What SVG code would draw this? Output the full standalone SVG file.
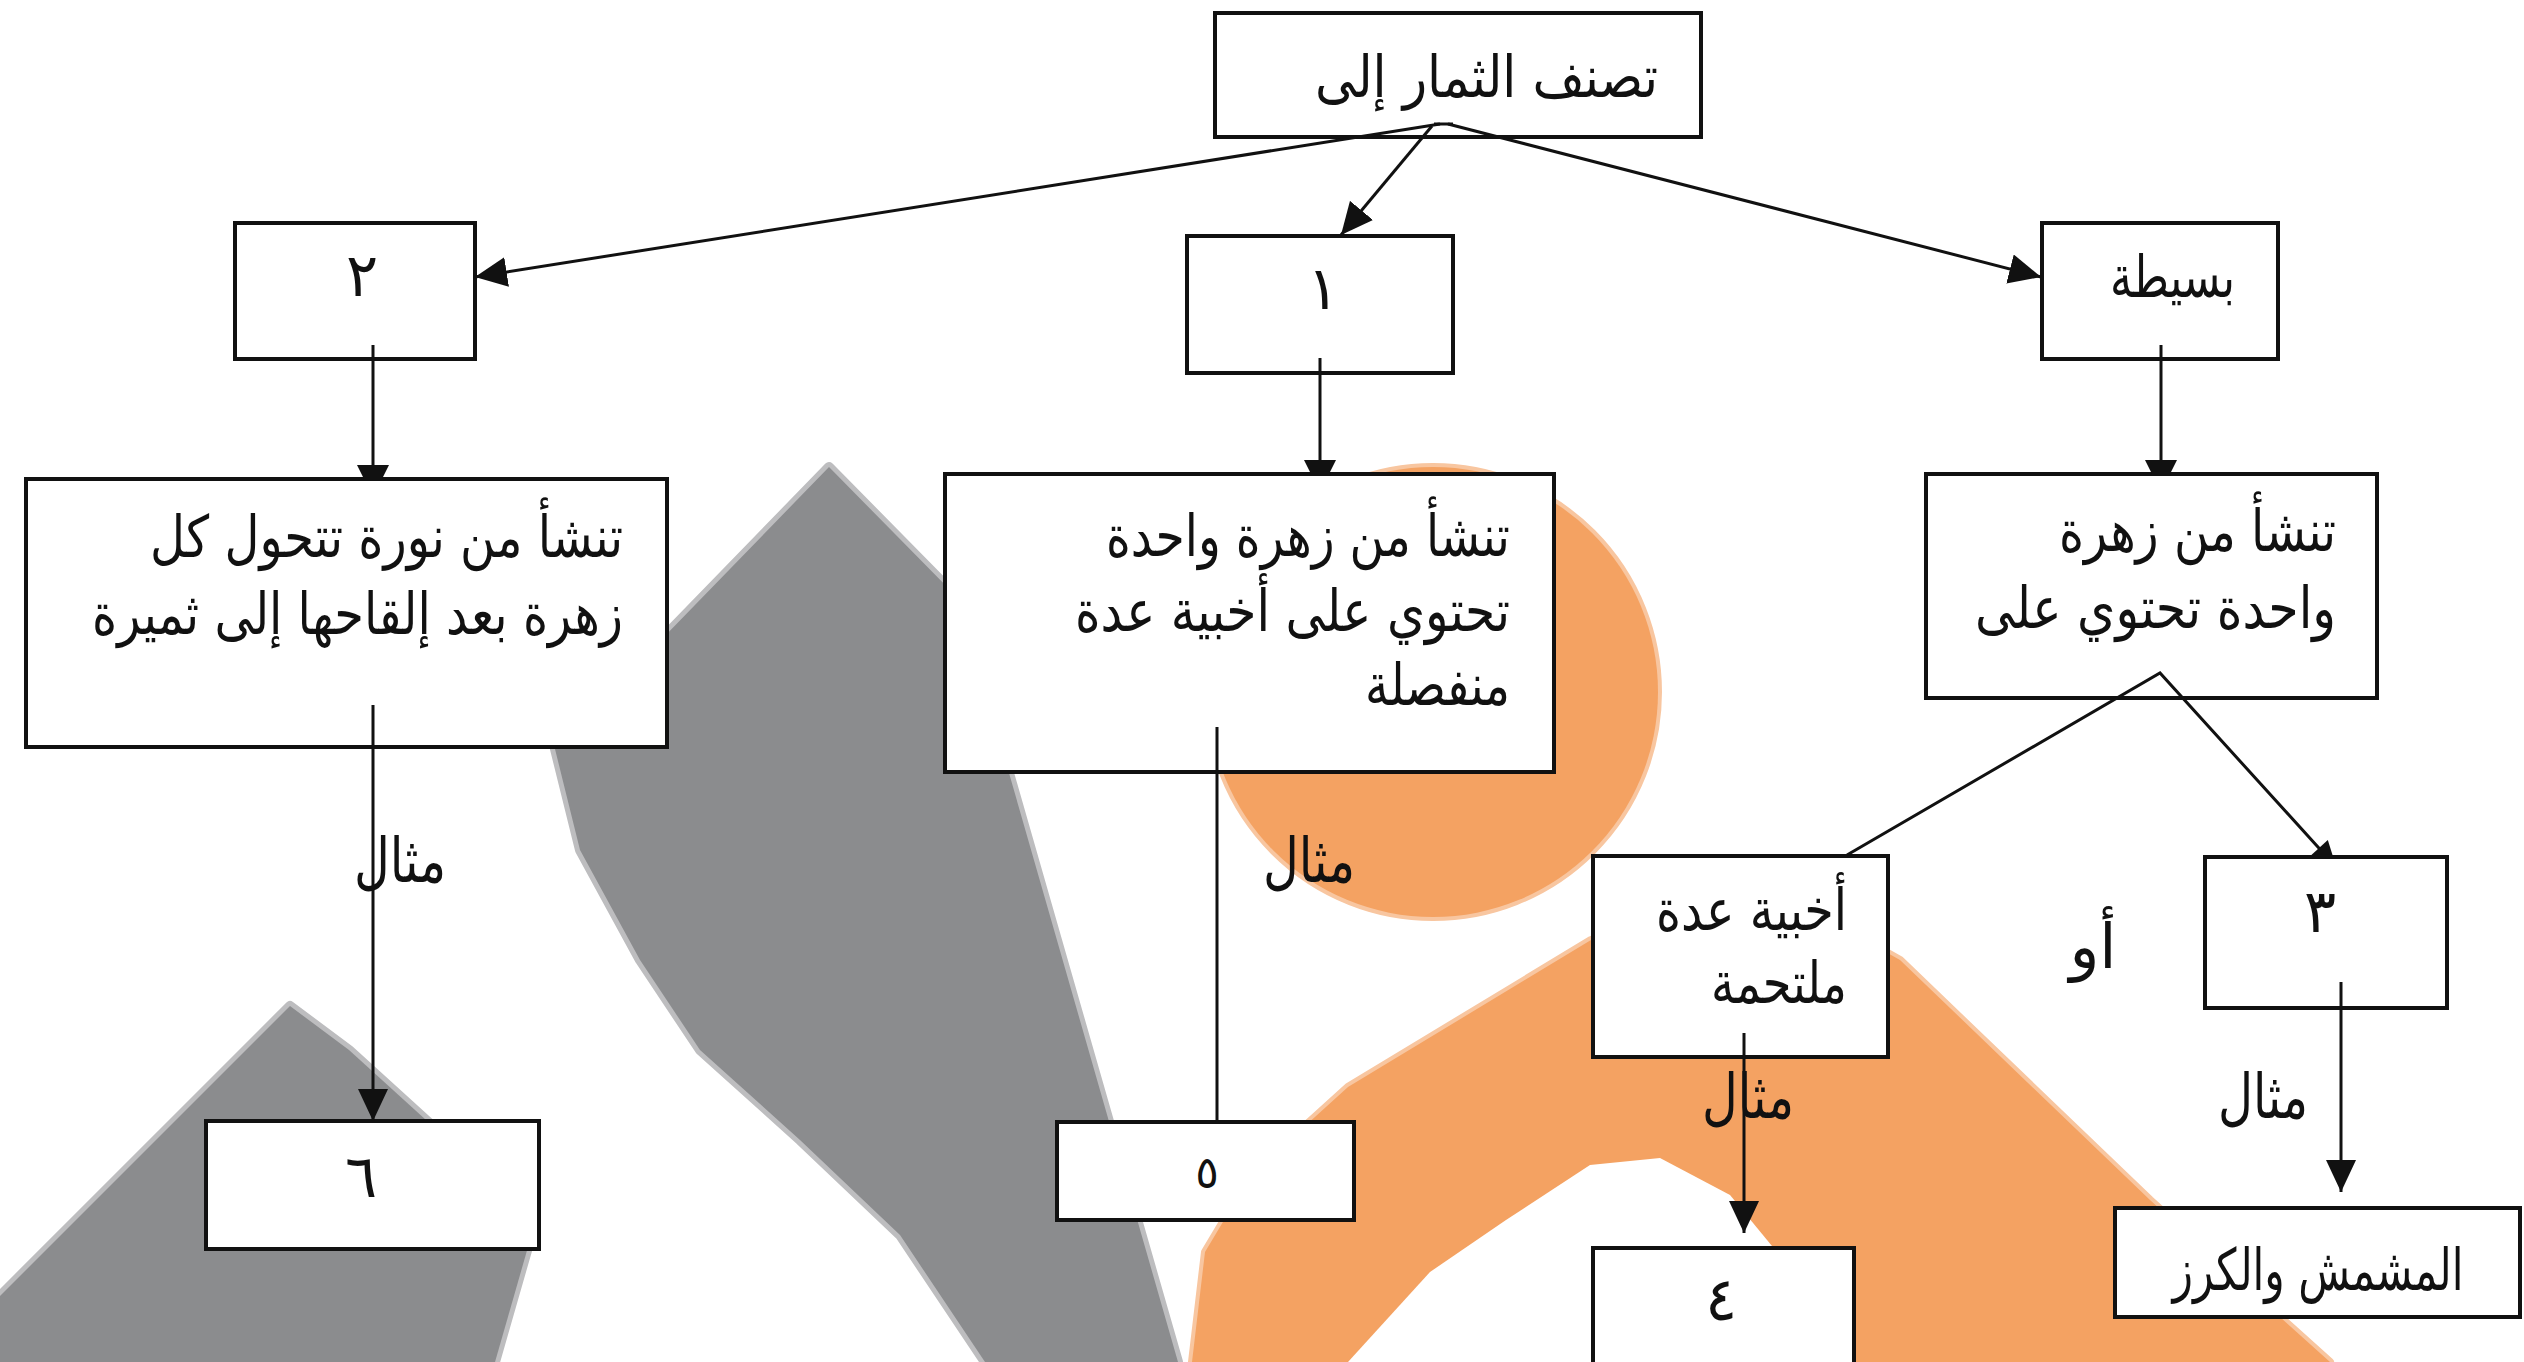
<svg xmlns="http://www.w3.org/2000/svg" width="2524" height="1362" viewBox="0 0 2524 1362">
  <style>
    .box { fill: #ffffff; stroke: #111111; stroke-width: 4; }
    .conn { fill: none; stroke: #111111; stroke-width: 3; }
    .head { fill: #111111; stroke: none; }
    .t { font-family: "DejaVu Sans", "Noto Sans", sans-serif; font-size: 58px; fill: #111111; }
    .d { font-size: 60px; }
    .small { font-size: 44px; }
    .lbl { font-size: 62px; }
    .r { text-anchor: end; }
    .c { text-anchor: middle; }
    .grey { fill: #8b8c8e; stroke: #bdbdbf; stroke-width: 10; paint-order: stroke; stroke-linejoin: round; }
    .orange { fill: #f4a262; stroke: #f8c6a0; stroke-width: 8; paint-order: stroke; stroke-linejoin: round; }
    .hole { fill: #ffffff; stroke: none; }
  </style>
  <defs>
    <marker id="arrow" markerUnits="userSpaceOnUse" viewBox="0 0 32 30" markerWidth="32" markerHeight="30" refX="32" refY="15" orient="auto">
      <path d="M0,0 L32,15 L0,30 z" fill="#111111"/>
    </marker>
  </defs>

  <!-- page background with the faint logo watermark -->
  <rect x="0" y="0" width="2524" height="1362" fill="#ffffff"/>
  <g id="watermark">
    <polygon class="grey" points="829,467 960,600 1009,773 1178,1362 985,1362 900,1235 800,1140 700,1050 640,960 580,850 555,749"/>
    <polygon class="grey" points="290,1006 349,1050 470,1160 530,1240 495,1362 0,1362 0,1296"/>
    <circle class="orange" cx="1433" cy="692" r="225"/>
    <polygon class="orange" points="1740,870 1900,960 2150,1200 2330,1362 1192,1362 1205,1252 1251,1175 1348,1087 1591,940"/>
    <polygon class="hole" points="1348,1362 1430,1272 1506,1220 1590,1165 1660,1158 1730,1195 1800,1280 1840,1362"/>
  </g>

  <!-- nodes -->
  <g id="node-root">
    <rect class="box" x="1215" y="13" width="486" height="124"/>
    <text class="t r" x="1658" y="97" textLength="343" lengthAdjust="spacingAndGlyphs">تصنف الثمار إلى</text>
  </g>
  <g id="node-2">
    <rect class="box" x="235" y="223" width="240" height="136"/>
    <text class="t d c" x="362" y="296">٢</text>
  </g>
  <g id="node-1">
    <rect class="box" x="1187" y="236" width="266" height="137"/>
    <text class="t d c" x="1323" y="309">١</text>
  </g>
  <g id="node-simple">
    <rect class="box" x="2042" y="223" width="236" height="136"/>
    <text class="t r" x="2235" y="297" textLength="125" lengthAdjust="spacingAndGlyphs">بسيطة</text>
  </g>
  <g id="node-inflorescence">
    <rect class="box" x="26" y="479" width="641" height="268"/>
    <text class="t r" x="623" y="557" textLength="473" lengthAdjust="spacingAndGlyphs">تنشأ من نورة تتحول كل</text>
    <text class="t r" x="623" y="634" textLength="531" lengthAdjust="spacingAndGlyphs">زهرة بعد إلقاحها إلى ثميرة</text>
  </g>
  <g id="node-separate">
    <rect class="box" x="945" y="474" width="609" height="298"/>
    <text class="t r" x="1510" y="556" textLength="404" lengthAdjust="spacingAndGlyphs">تنشأ من زهرة واحدة</text>
    <text class="t r" x="1510" y="631" textLength="435" lengthAdjust="spacingAndGlyphs">تحتوي على أخبية عدة</text>
    <text class="t r" x="1510" y="705" textLength="145" lengthAdjust="spacingAndGlyphs">منفصلة</text>
  </g>
  <g id="node-single-flower">
    <rect class="box" x="1926" y="474" width="451" height="224"/>
    <text class="t r" x="2336" y="551" textLength="277" lengthAdjust="spacingAndGlyphs">تنشأ من زهرة</text>
    <text class="t r" x="2336" y="628" textLength="361" lengthAdjust="spacingAndGlyphs">واحدة تحتوي على</text>
  </g>
  <g id="node-fused">
    <rect class="box" x="1593" y="856" width="295" height="201"/>
    <text class="t r" x="1847" y="930" textLength="191" lengthAdjust="spacingAndGlyphs">أخبية عدة</text>
    <text class="t r" x="1847" y="1003" textLength="136" lengthAdjust="spacingAndGlyphs">ملتحمة</text>
  </g>
  <g id="node-3">
    <rect class="box" x="2205" y="857" width="242" height="151"/>
    <text class="t d c" x="2320" y="932">٣</text>
  </g>
  <g id="node-6">
    <rect class="box" x="206" y="1121" width="333" height="128"/>
    <text class="t d c" x="361" y="1197">٦</text>
  </g>
  <g id="node-5">
    <rect class="box" x="1057" y="1122" width="297" height="98"/>
    <text class="t small c" x="1207" y="1188">٥</text>
  </g>
  <g id="node-4">
    <rect class="box" x="1593" y="1248" width="261" height="140"/>
    <text class="t d c" x="1721" y="1320">٤</text>
  </g>
  <g id="node-apricot">
    <rect class="box" x="2115" y="1208" width="405" height="109"/>
    <text class="t c" x="0" y="0" transform="translate(2318,1290) scale(0.73,1)">المشمش والكرز</text>
  </g>

  <!-- connectors and their labels -->
  <g id="connectors">
    <path class="conn" d="M1434,124 L1453,124"/>
    <path class="conn" d="M1440,124 L475,277" marker-end="url(#arrow)"/>
    <path class="conn" d="M1432,126 L1341,235" marker-end="url(#arrow)"/>
    <path class="conn" d="M1448,124 L2041,277" marker-end="url(#arrow)"/>

    <path class="conn" d="M373,345 L373,467"/>
    <polygon class="head" points="357,465 389,465 382,479 364,479"/>
    <path class="conn" d="M1320,358 L1320,462"/>
    <polygon class="head" points="1304,460 1336,460 1329,474 1311,474"/>
    <path class="conn" d="M2161,345 L2161,462"/>
    <polygon class="head" points="2145,460 2177,460 2170,474 2152,474"/>

    <path class="conn" d="M373,705 L373,1121" marker-end="url(#arrow)"/>
    <path class="conn" d="M1217,727 L1217,1122"/>

    <path class="conn" d="M1847,855 L2160,673 L2327,857"/>
    <polygon class="head" points="2327.8,840.1 2333.1,857 2311.7,857 2310,856.3"/>

    <path class="conn" d="M1744,1033 L1744,1233" marker-end="url(#arrow)"/>
    <path class="conn" d="M2341,982 L2341,1192" marker-end="url(#arrow)"/>

    <text class="t lbl c" x="400" y="882" textLength="92" lengthAdjust="spacingAndGlyphs">مثال</text>
    <text class="t lbl c" x="1309" y="882" textLength="92" lengthAdjust="spacingAndGlyphs">مثال</text>
    <text class="t lbl c" x="1748" y="1118" textLength="92" lengthAdjust="spacingAndGlyphs">مثال</text>
    <text class="t lbl c" x="2263" y="1118" textLength="90" lengthAdjust="spacingAndGlyphs">مثال</text>
    <text class="t lbl c" x="2093" y="968">أو</text>
  </g>
</svg>
